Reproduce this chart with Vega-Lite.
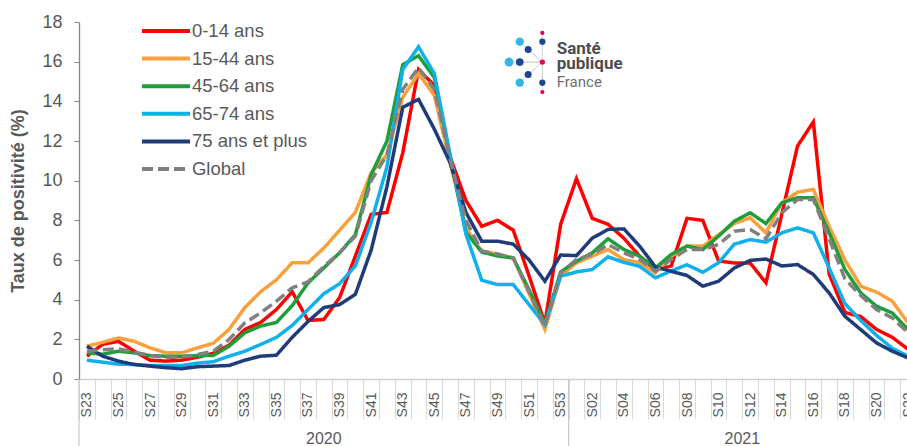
{
  "$schema": "https://vega.github.io/schema/vega-lite/v6.json",
  "autosize": {"type": "none"},
  "padding": {"left": 79, "top": 22, "right": 0, "bottom": 67},
  "width": 837,
  "height": 357,
  "background": "#ffffff",
  "config": {"view": {"stroke": null}, "font": "Liberation Sans", "axis": {"grid": false}},
  "datasets": {
    "weeks": [
      {"week":"S23","year":"2020","0-14 ans":1.15,"15-44 ans":1.65,"45-64 ans":1.32,"65-74 ans":0.95,"75 ans et plus":1.65,"Global":1.4},
      {"week":"S24","year":"2020","0-14 ans":1.75,"15-44 ans":1.85,"45-64 ans":1.25,"65-74 ans":0.85,"75 ans et plus":1.15,"Global":1.48},
      {"week":"S25","year":"2020","0-14 ans":1.9,"15-44 ans":2.07,"45-64 ans":1.4,"65-74 ans":0.75,"75 ans et plus":0.9,"Global":1.52},
      {"week":"S26","year":"2020","0-14 ans":1.4,"15-44 ans":1.9,"45-64 ans":1.32,"65-74 ans":0.73,"75 ans et plus":0.73,"Global":1.35},
      {"week":"S27","year":"2020","0-14 ans":0.95,"15-44 ans":1.57,"45-64 ans":1.18,"65-74 ans":0.68,"75 ans et plus":0.65,"Global":1.18},
      {"week":"S28","year":"2020","0-14 ans":0.9,"15-44 ans":1.32,"45-64 ans":1.15,"65-74 ans":0.68,"75 ans et plus":0.57,"Global":1.1},
      {"week":"S29","year":"2020","0-14 ans":0.95,"15-44 ans":1.32,"45-64 ans":1.15,"65-74 ans":0.68,"75 ans et plus":0.52,"Global":1.1},
      {"week":"S30","year":"2020","0-14 ans":1.1,"15-44 ans":1.57,"45-64 ans":1.18,"65-74 ans":0.8,"75 ans et plus":0.62,"Global":1.23},
      {"week":"S31","year":"2020","0-14 ans":1.3,"15-44 ans":1.8,"45-64 ans":1.18,"65-74 ans":0.87,"75 ans et plus":0.65,"Global":1.4},
      {"week":"S32","year":"2020","0-14 ans":1.7,"15-44 ans":2.5,"45-64 ans":1.65,"65-74 ans":1.15,"75 ans et plus":0.68,"Global":1.99},
      {"week":"S33","year":"2020","0-14 ans":2.5,"15-44 ans":3.6,"45-64 ans":2.33,"65-74 ans":1.4,"75 ans et plus":0.95,"Global":2.83},
      {"week":"S34","year":"2020","0-14 ans":2.85,"15-44 ans":4.4,"45-64 ans":2.67,"65-74 ans":1.74,"75 ans et plus":1.15,"Global":3.33},
      {"week":"S35","year":"2020","0-14 ans":3.5,"15-44 ans":5.0,"45-64 ans":2.85,"65-74 ans":2.1,"75 ans et plus":1.2,"Global":3.92},
      {"week":"S36","year":"2020","0-14 ans":4.4,"15-44 ans":5.86,"45-64 ans":3.7,"65-74 ans":2.7,"75 ans et plus":2.1,"Global":4.6},
      {"week":"S37","year":"2020","0-14 ans":2.95,"15-44 ans":5.86,"45-64 ans":4.84,"65-74 ans":3.5,"75 ans et plus":2.9,"Global":4.9},
      {"week":"S38","year":"2020","0-14 ans":3.0,"15-44 ans":6.6,"45-64 ans":5.6,"65-74 ans":4.3,"75 ans et plus":3.6,"Global":5.67},
      {"week":"S39","year":"2020","0-14 ans":4.1,"15-44 ans":7.5,"45-64 ans":6.36,"65-74 ans":4.8,"75 ans et plus":3.75,"Global":6.36},
      {"week":"S40","year":"2020","0-14 ans":6.2,"15-44 ans":8.4,"45-64 ans":7.28,"65-74 ans":5.7,"75 ans et plus":4.27,"Global":7.2},
      {"week":"S41","year":"2020","0-14 ans":8.3,"15-44 ans":10.4,"45-64 ans":10.3,"65-74 ans":7.9,"75 ans et plus":6.5,"Global":10.0},
      {"week":"S42","year":"2020","0-14 ans":8.4,"15-44 ans":11.3,"45-64 ans":12.0,"65-74 ans":10.7,"75 ans et plus":9.7,"Global":11.3},
      {"week":"S43","year":"2020","0-14 ans":11.4,"15-44 ans":14.2,"45-64 ans":15.85,"65-74 ans":15.6,"75 ans et plus":13.7,"Global":14.6},
      {"week":"S44","year":"2020","0-14 ans":15.6,"15-44 ans":15.4,"45-64 ans":16.3,"65-74 ans":16.75,"75 ans et plus":14.1,"Global":15.7},
      {"week":"S45","year":"2020","0-14 ans":14.8,"15-44 ans":14.3,"45-64 ans":15.2,"65-74 ans":15.4,"75 ans et plus":12.6,"Global":14.6},
      {"week":"S46","year":"2020","0-14 ans":11.2,"15-44 ans":10.9,"45-64 ans":11.2,"65-74 ans":11.3,"75 ans et plus":10.9,"Global":11.1},
      {"week":"S47","year":"2020","0-14 ans":9.0,"15-44 ans":7.6,"45-64 ans":7.4,"65-74 ans":7.3,"75 ans et plus":8.4,"Global":8.0},
      {"week":"S48","year":"2020","0-14 ans":7.7,"15-44 ans":6.45,"45-64 ans":6.4,"65-74 ans":4.98,"75 ans et plus":6.95,"Global":6.45},
      {"week":"S49","year":"2020","0-14 ans":8.0,"15-44 ans":6.3,"45-64 ans":6.2,"65-74 ans":4.76,"75 ans et plus":6.95,"Global":6.3},
      {"week":"S50","year":"2020","0-14 ans":7.5,"15-44 ans":6.1,"45-64 ans":6.1,"65-74 ans":4.76,"75 ans et plus":6.8,"Global":6.1},
      {"week":"S51","year":"2020","0-14 ans":5.2,"15-44 ans":4.3,"45-64 ans":4.5,"65-74 ans":3.75,"75 ans et plus":6.0,"Global":4.4},
      {"week":"S52","year":"2020","0-14 ans":2.8,"15-44 ans":2.5,"45-64 ans":2.8,"65-74 ans":2.74,"75 ans et plus":4.93,"Global":2.65},
      {"week":"S53","year":"2020","0-14 ans":7.8,"15-44 ans":5.2,"45-64 ans":5.4,"65-74 ans":5.18,"75 ans et plus":6.25,"Global":5.35},
      {"week":"S01","year":"2021","0-14 ans":10.1,"15-44 ans":5.86,"45-64 ans":5.94,"65-74 ans":5.4,"75 ans et plus":6.22,"Global":6.03},
      {"week":"S02","year":"2021","0-14 ans":8.1,"15-44 ans":6.19,"45-64 ans":6.36,"65-74 ans":5.52,"75 ans et plus":7.1,"Global":6.28},
      {"week":"S03","year":"2021","0-14 ans":7.8,"15-44 ans":6.53,"45-64 ans":7.07,"65-74 ans":6.16,"75 ans et plus":7.54,"Global":6.78},
      {"week":"S04","year":"2021","0-14 ans":7.1,"15-44 ans":6.02,"45-64 ans":6.53,"65-74 ans":5.88,"75 ans et plus":7.57,"Global":6.36},
      {"week":"S05","year":"2021","0-14 ans":6.2,"15-44 ans":5.86,"45-64 ans":6.19,"65-74 ans":5.68,"75 ans et plus":6.7,"Global":6.03},
      {"week":"S06","year":"2021","0-14 ans":5.5,"15-44 ans":5.35,"45-64 ans":5.6,"65-74 ans":5.1,"75 ans et plus":5.65,"Global":5.43},
      {"week":"S07","year":"2021","0-14 ans":5.7,"15-44 ans":6.19,"45-64 ans":6.28,"65-74 ans":5.45,"75 ans et plus":5.43,"Global":6.03},
      {"week":"S08","year":"2021","0-14 ans":8.1,"15-44 ans":6.7,"45-64 ans":6.7,"65-74 ans":5.76,"75 ans et plus":5.22,"Global":6.53},
      {"week":"S09","year":"2021","0-14 ans":8.0,"15-44 ans":6.7,"45-64 ans":6.53,"65-74 ans":5.38,"75 ans et plus":4.68,"Global":6.53},
      {"week":"S10","year":"2021","0-14 ans":5.95,"15-44 ans":7.28,"45-64 ans":7.2,"65-74 ans":5.86,"75 ans et plus":4.93,"Global":6.78},
      {"week":"S11","year":"2021","0-14 ans":5.85,"15-44 ans":7.84,"45-64 ans":7.96,"65-74 ans":6.8,"75 ans et plus":5.6,"Global":7.45},
      {"week":"S12","year":"2021","0-14 ans":5.85,"15-44 ans":8.13,"45-64 ans":8.38,"65-74 ans":7.03,"75 ans et plus":5.98,"Global":7.54},
      {"week":"S13","year":"2021","0-14 ans":4.85,"15-44 ans":7.37,"45-64 ans":7.84,"65-74 ans":6.9,"75 ans et plus":6.05,"Global":7.07},
      {"week":"S14","year":"2021","0-14 ans":8.3,"15-44 ans":8.88,"45-64 ans":8.88,"65-74 ans":7.37,"75 ans et plus":5.7,"Global":8.38},
      {"week":"S15","year":"2021","0-14 ans":11.75,"15-44 ans":9.42,"45-64 ans":9.14,"65-74 ans":7.62,"75 ans et plus":5.77,"Global":9.05},
      {"week":"S16","year":"2021","0-14 ans":12.96,"15-44 ans":9.56,"45-64 ans":9.14,"65-74 ans":7.37,"75 ans et plus":5.27,"Global":9.05},
      {"week":"S17","year":"2021","0-14 ans":5.3,"15-44 ans":7.7,"45-64 ans":7.37,"65-74 ans":5.6,"75 ans et plus":4.34,"Global":7.07},
      {"week":"S18","year":"2021","0-14 ans":3.35,"15-44 ans":6.0,"45-64 ans":5.52,"65-74 ans":3.8,"75 ans et plus":3.16,"Global":5.05},
      {"week":"S19","year":"2021","0-14 ans":3.15,"15-44 ans":4.68,"45-64 ans":4.34,"65-74 ans":2.95,"75 ans et plus":2.49,"Global":4.21},
      {"week":"S20","year":"2021","0-14 ans":2.5,"15-44 ans":4.38,"45-64 ans":3.67,"65-74 ans":2.2,"75 ans et plus":1.82,"Global":3.5},
      {"week":"S21","year":"2021","0-14 ans":2.1,"15-44 ans":3.92,"45-64 ans":3.33,"65-74 ans":1.55,"75 ans et plus":1.4,"Global":3.08},
      {"week":"S22","year":"2021","0-14 ans":1.5,"15-44 ans":2.82,"45-64 ans":2.49,"65-74 ans":1.15,"75 ans et plus":1.06,"Global":2.33}
    ],
    "series": [
      {"serie":"0-14 ans"},
      {"serie":"15-44 ans"},
      {"serie":"45-64 ans"},
      {"serie":"65-74 ans"},
      {"serie":"75 ans et plus"},
      {"serie":"Global"}
    ],
    "logo": [
      {"lx":29.34,"ly":17.45,"k":"a"},
      {"lx":29.34,"ly":14.47,"k":"a"},
      {"lx":29.34,"ly":15.98,"k":"b"},
      {"lx":29.34,"ly":17.01,"k":"c"},
      {"lx":29.34,"ly":14.94,"k":"c"},
      {"lx":28.44,"ly":16.61,"k":"d"},
      {"lx":28.44,"ly":15.35,"k":"d"},
      {"lx":27.91,"ly":15.98,"k":"e"},
      {"lx":27.91,"ly":17.01,"k":"f"},
      {"lx":27.91,"ly":14.94,"k":"f"},
      {"lx":27.23,"ly":15.98,"k":"g"}
    ],
    "logotext": [
      {"t":"Santé","lx":30.25,"ly":16.4,"w":"b"},
      {"t":"publique","lx":30.25,"ly":15.62,"w":"b"},
      {"t":"France","lx":30.25,"ly":14.74,"w":"r"}
    ]
  },
  "layer": [
    {
      "data": {"name": "weeks"},
      "transform": [{"fold": ["0-14 ans","15-44 ans","45-64 ans","65-74 ans","75 ans et plus","Global"], "as": ["serie","value"]}],
      "mark": {"type": "line", "strokeWidth": 3.5, "strokeJoin": "miter"},
      "encoding": {
        "x": {
          "field": "week", "type": "ordinal",
          "sort": ["S23","S24","S25","S26","S27","S28","S29","S30","S31","S32","S33","S34","S35","S36","S37","S38","S39","S40","S41","S42","S43","S44","S45","S46","S47","S48","S49","S50","S51","S52","S53","S01","S02","S03","S04","S05","S06","S07","S08","S09","S10","S11","S12","S13","S14","S15","S16","S17","S18","S19","S20","S21","S22"],
          "scale": {"type": "band", "paddingInner": 0, "paddingOuter": 0,
            "domain": ["S23","S24","S25","S26","S27","S28","S29","S30","S31","S32","S33","S34","S35","S36","S37","S38","S39","S40","S41","S42","S43","S44","S45","S46","S47","S48","S49","S50","S51","S52","S53","S01","S02","S03","S04","S05","S06","S07","S08","S09","S10","S11","S12","S13","S14","S15","S16","S17","S18","S19","S20","S21","S22"]},
          "axis": {
            "title": null, "labelAngle": 270, "labelFontSize": 14, "labelColor": "#595959",
            "labelPadding": -27, "tickBand": "extent", "tickSize": 40, "tickColor": "#d9d9d9",
            "domainColor": "#d0d0d0", "domainWidth": 1.3, "labelOverlap": false,
            "labelExpr": "((parseInt(substring(datum.value,1)) % 2) == 1) == (parseInt(substring(datum.value,1)) > 22) ? datum.value : ''"
          }
        },
        "y": {
          "field": "value", "type": "quantitative",
          "scale": {"domain": [0, 18], "nice": false},
          "axis": {
            "title": "Taux de positivité  (%)", "values": [0,2,4,6,8,10,12,14,16,18],
            "labelOverlap": false, "labelFontSize": 18, "labelColor": "#595959", "tickSize": 5, "tickColor": "#868686",
            "domainColor": "#868686", "domainWidth": 1.3, "labelPadding": 12,
            "titleFontSize": 18, "titleFontWeight": "bold", "titleColor": "#595959", "titlePadding": 14
          }
        },
        "color": {
          "field": "serie", "type": "nominal", "legend": null,
          "scale": {"domain": ["0-14 ans","15-44 ans","45-64 ans","65-74 ans","75 ans et plus","Global"],
                    "range": ["#ff0000","#f8a03c","#1e9e3a","#0fb0ec","#1f3c78","#808080"]}
        },
        "strokeDash": {
          "field": "serie", "type": "nominal", "legend": null,
          "scale": {"domain": ["0-14 ans","15-44 ans","45-64 ans","65-74 ans","75 ans et plus","Global"],
                    "range": [[1,0],[1,0],[1,0],[1,0],[1,0],[11,5]]}
        }
      }
    },
    {
      "data": {"name": "weeks"},
      "layer": [
        {
          "transform": [{"filter": "datum.week == 'S23' || datum.week == 'S01'"}],
          "mark": {"type": "rule", "color": "#c8c8c8", "strokeWidth": 1.2},
          "encoding": {
            "x": {"field": "week", "type": "ordinal", "bandPosition": 0, "axis": null,
                  "scale": {"type": "band", "paddingInner": 0, "paddingOuter": 0,
                    "domain": ["S23","S24","S25","S26","S27","S28","S29","S30","S31","S32","S33","S34","S35","S36","S37","S38","S39","S40","S41","S42","S43","S44","S45","S46","S47","S48","S49","S50","S51","S52","S53","S01","S02","S03","S04","S05","S06","S07","S08","S09","S10","S11","S12","S13","S14","S15","S16","S17","S18","S19","S20","S21","S22"]}},
            "y": {"datum": 0, "axis": null, "scale": {"domain": [0, 18], "nice": false}},
            "y2": {"datum": -3.5}
          }
        },
        {
          "transform": [{"filter": "datum.week == 'S38'"}],
          "mark": {"type": "text", "fontSize": 16, "color": "#595959", "align": "center", "baseline": "alphabetic"},
          "encoding": {
            "x": {"field": "week", "type": "ordinal", "axis": null},
            "y": {"datum": -3.3, "axis": null},
            "text": {"field": "year"}
          }
        },
        {
          "transform": [{"filter": "datum.week == 'S12'"}],
          "mark": {"type": "text", "fontSize": 16, "color": "#595959", "align": "center", "baseline": "alphabetic"},
          "encoding": {
            "x": {"field": "week", "type": "ordinal", "bandPosition": 0, "axis": null},
            "y": {"datum": -3.3, "axis": null},
            "text": {"field": "year"}
          }
        }
      ]
    },
    {
      "layer": [
        {
          "data": {"name": "logo"},
          "transform": [{"filter": "datum.k != 'b'"}],
          "mark": {"type": "rule", "color": "#d6d6d6", "strokeWidth": 1},
          "encoding": {
            "x": {"field": "lx", "type": "quantitative", "scale": {"domain": [0, 53], "nice": false, "zero": false}, "axis": null},
            "y": {"field": "ly", "type": "quantitative", "scale": {"domain": [0, 18], "nice": false}, "axis": null},
            "x2": {"datum": 29.34},
            "y2": {"datum": 15.98}
          }
        },
        {
          "data": {"name": "logo"},
          "mark": {"type": "point", "filled": true, "opacity": 1},
          "encoding": {
            "x": {"field": "lx", "type": "quantitative", "axis": null},
            "y": {"field": "ly", "type": "quantitative", "axis": null},
            "fill": {"field": "k", "type": "nominal", "legend": null,
                     "scale": {"domain": ["a","b","c","d","e","f","g"], "range": ["#e5005a","#e5005a","#1d4593","#1d4593","#1d4593","#36b5e6","#36b5e6"]}},
            "size": {"field": "k", "type": "ordinal", "legend": null,
                     "scale": {"domain": ["a","b","c","d","e","f","g"], "range": [18,80,64,45,125,40,18]}}
          }
        },
        {
          "data": {"name": "logotext"},
          "transform": [{"filter": "datum.w == 'b'"}],
          "mark": {"type": "text", "font": "Roboto", "fontWeight": "bold", "fontSize": 17, "color": "#4d4d4f", "align": "left", "baseline": "alphabetic"},
          "encoding": {
            "x": {"field": "lx", "type": "quantitative", "axis": null},
            "y": {"field": "ly", "type": "quantitative", "axis": null},
            "text": {"field": "t"}
          }
        },
        {
          "data": {"name": "logotext"},
          "transform": [{"filter": "datum.w == 'r'"}],
          "mark": {"type": "text", "font": "Roboto", "fontSize": 15, "color": "#6d6e71", "align": "left", "baseline": "alphabetic"},
          "encoding": {
            "x": {"field": "lx", "type": "quantitative", "axis": null},
            "y": {"field": "ly", "type": "quantitative", "axis": null},
            "text": {"field": "t"}
          }
        }
      ]
    },
    {
      "data": {"name": "series"},
      "layer": [
        {
          "mark": {"type": "rule", "strokeWidth": 4},
          "encoding": {
            "x": {"datum": 3.99, "type": "quantitative", "scale": {"domain": [0, 53], "nice": false, "zero": false}, "axis": null},
            "x2": {"datum": 7.03},
            "y": {"field": "serie", "type": "ordinal", "axis": null,
                  "scale": {"type": "point", "domain": ["0-14 ans","15-44 ans","45-64 ans","65-74 ans","75 ans et plus","Global"], "range": [9, 147], "padding": 0}},
            "color": {"field": "serie", "type": "nominal", "legend": null},
            "strokeDash": {"field": "serie", "type": "nominal", "legend": null}
          }
        },
        {
          "mark": {"type": "text", "fontSize": 18.5, "color": "#595959", "align": "left", "baseline": "middle", "font": "Liberation Sans"},
          "encoding": {
            "x": {"datum": 7.15, "type": "quantitative", "axis": null},
            "y": {"field": "serie", "type": "ordinal", "axis": null},
            "text": {"field": "serie"}
          }
        }
      ]
    }
  ],
  "resolve": {"scale": {"x": "independent", "y": "independent"}}
}
